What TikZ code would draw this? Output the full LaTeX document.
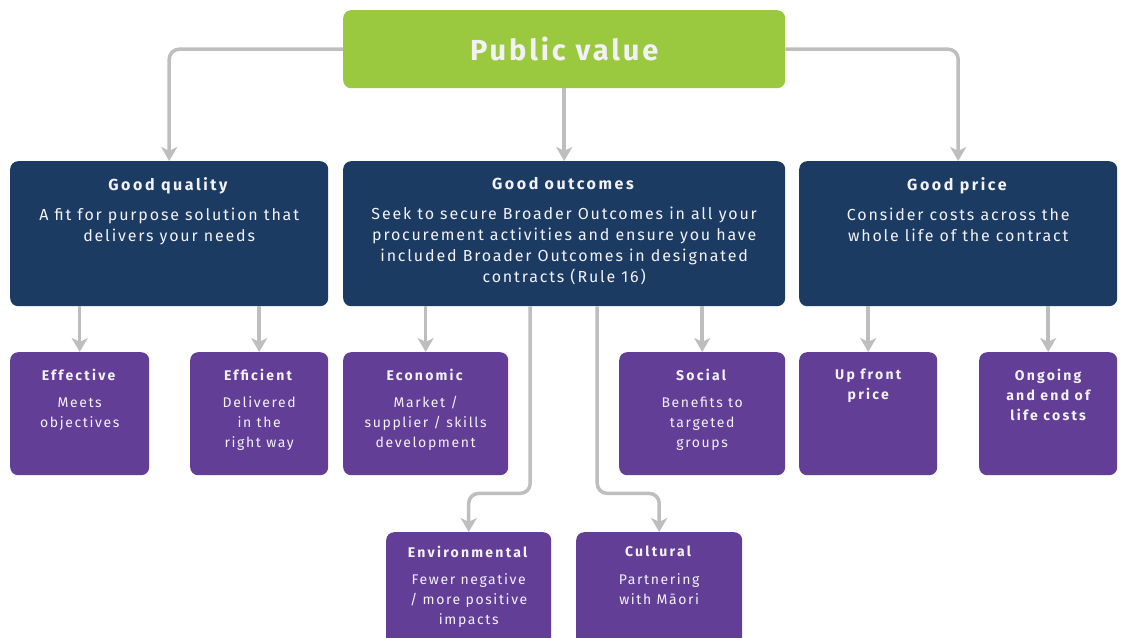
\documentclass[tikz,border=0pt]{standalone}
\usepackage{fontspec}
\setmainfont{Fira Sans}[LetterSpace=11.5, BoldFeatures={LetterSpace=16}]
\newfontfamily\pvtitlefont{Fira Sans}[LetterSpace=10]
\usetikzlibrary{arrows.meta,calc}
\definecolor{pvgreen}{HTML}{9AC83E}
\definecolor{pvnavy}{HTML}{1C3B63}
\definecolor{pvpurple}{HTML}{623E97}
\definecolor{pvgrey}{HTML}{BEBEBE}
\definecolor{pvtext}{HTML}{F2F2F6}
\begin{document}
\begin{tikzpicture}[x=1pt,y=-1pt,
  shell/.style={rounded corners=8pt, inner sep=0pt, anchor=north west, draw=none},
  greenbox/.style={shell, fill=pvgreen},
  navybox/.style={shell, fill=pvnavy},
  purplebox/.style={shell, fill=pvpurple},
  label/.style={anchor=north, inner sep=0pt, align=center, text=pvtext,
    font=\fontsize{16}{21}\selectfont},
  plabel/.style={label, font=\fontsize{14}{20}\selectfont},
  conn/.style={draw=pvgrey, line width=3.5pt, rounded corners=10pt,
    -{Stealth[width=16pt,length=14pt,inset=4pt]}}]
\useasboundingbox (0,0) rectangle (1121,637);
\clip (0,0) rectangle (1121,637);
\fill[white] (0,0) rectangle (1121,637);

% top
\node[greenbox, minimum width=442pt, minimum height=78pt] (pv) at (343,10) {};
\node[text=pvtext, font=\pvtitlefont\fontsize{29}{34}\selectfont\bfseries] (pvt) at (pv.center) {Public value};

% second row
\node[navybox, minimum width=318pt, minimum height=145pt] (gq) at (10,161) {};
\node[navybox, minimum width=442pt, minimum height=145pt] (go) at (343,161) {};
\node[navybox, minimum width=318pt, minimum height=145pt] (gp) at (799,161) {};

\node[label] (gqt) at ($(gq.north)+(0,16)$) {\rule{0pt}{11pt}\textbf{Good quality}\\[9.5pt]A fit for purpose solution that\\delivers your needs};
\node[label] (got) at ($(go.north)+(0,16)$) {\rule{0pt}{11pt}\textbf{Good outcomes}\\[9.5pt]Seek to secure Broader Outcomes in all your\\procurement activities and ensure you have\\included Broader Outcomes in designated\\contracts (Rule 16)};
\node[label] (gpt) at ($(gp.north)+(0,16)$) {\rule{0pt}{11pt}\textbf{Good price}\\[9.5pt]Consider costs across the\\whole life of the contract};

% third row
\node[purplebox, minimum width=139pt, minimum height=123pt] (eff) at (10,352) {};
\node[purplebox, minimum width=138pt, minimum height=123pt] (effi) at (190,352) {};
\node[purplebox, minimum width=165pt, minimum height=123pt] (econ) at (343,352) {};
\node[purplebox, minimum width=166pt, minimum height=123pt] (soc) at (619,352) {};
\node[purplebox, minimum width=138pt, minimum height=123pt] (up) at (799,352) {};
\node[purplebox, minimum width=138pt, minimum height=123pt] (ong) at (979,352) {};

\node[plabel] (efft) at ($(eff.north)+(0,16.5)$) {\rule{0pt}{11pt}\textbf{Effective}\\[7.5pt]Meets\\objectives};
\node[plabel] (effit) at ($(effi.north)+(0,16.5)$) {\rule{0pt}{11pt}\textbf{Efficient}\\[7.5pt]Delivered\\in the\\right way};
\node[plabel] (econt) at ($(econ.north)+(0,16.5)$) {\rule{0pt}{11pt}\textbf{Economic}\\[7.5pt]Market /\\supplier / skills\\development};
\node[plabel] (soct) at ($(soc.north)+(0,16.5)$) {\rule{0pt}{11pt}\textbf{Social}\\[7.5pt]Benefits to\\targeted\\groups};
\node[plabel, font=\fontsize{14}{20}\selectfont\bfseries] (upt) at ($(up.north)+(0,16.5)$) {\rule{0pt}{11pt}Up front\\price};
\node[plabel, font=\fontsize{14}{20}\selectfont\bfseries] (ongt) at ($(ong.north)+(0,16.5)$) {\rule{0pt}{11pt}Ongoing\\and end of\\life costs};

% fourth row
\node[purplebox, minimum width=165pt, minimum height=120pt] (env) at (386,532) {};
\node[purplebox, minimum width=166pt, minimum height=120pt] (cult) at (576,532) {};
\node[plabel] (envt) at ($(env.north)+(0,13.5)$) {\rule{0pt}{11pt}\textbf{Environmental}\\[7.5pt]Fewer negative\\/ more positive\\impacts};
\node[plabel] (cultt) at ($(cult.north)+(0,13.5)$) {\rule{0pt}{11pt}\textbf{Cultural}\\[7.5pt]Partnering\\with Māori};

% connectors
\draw[conn] (pv.west) -| (gq.north);
\draw[conn] (pv.east) -| (gp.north);
\draw[conn] (pv.south) -- (go.north);
\draw[conn] (gq.south -| eff.north) -- (eff.north);
\draw[conn] (gq.south -| effi.north) -- (effi.north);
\draw[conn] (go.south -| econ.north) -- (econ.north);
\draw[conn] (go.south -| soc.north) -- (soc.north);
\draw[conn] (gp.south -| up.north) -- (up.north);
\draw[conn] (gp.south -| ong.north) -- (ong.north);
\draw[conn] ($(go.south)+(-34,0)$) -- ++(0,187) -| (env.north);
\draw[conn] ($(go.south)+(33,0)$) -- ++(0,187) -| (cult.north);
\end{tikzpicture}
\end{document}
